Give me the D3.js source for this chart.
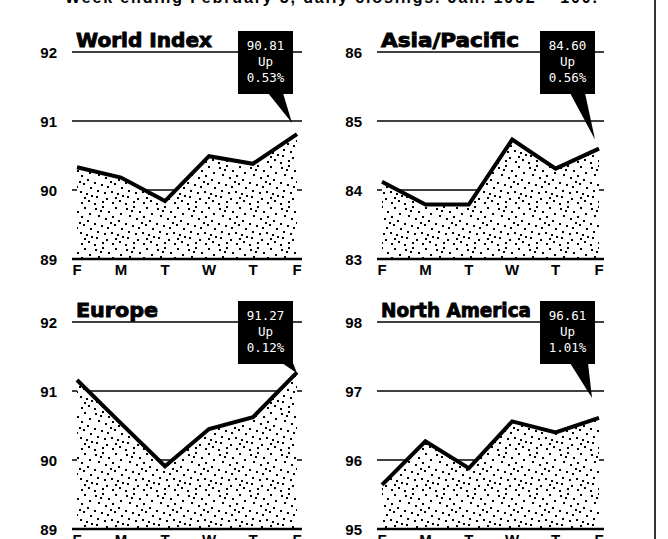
<!DOCTYPE html>
<html>
<head>
<meta charset="utf-8">
<script src="https://cdn.jsdelivr.net/npm/d3@7"></script>
<style>
  body { margin: 0; background: #fff; }
  svg { display: block; }
  .ylab { font-family: "Liberation Sans", Arial, sans-serif; font-weight: bold; font-size: 15px; }
  .day { font-family: "Liberation Sans", Arial, sans-serif; font-weight: bold; font-size: 15px; }
  .ptitle { font-family: "DejaVu Sans", sans-serif; font-weight: bold; font-size: 19.5px; stroke: #000; stroke-width: 0.9px; }
  .boxtxt { font-family: "DejaVu Sans Mono", monospace; font-size: 12.5px; fill: #fff; }
  .head { font-family: "Liberation Sans", Arial, sans-serif; font-weight: bold; font-size: 16px; }
</style>
</head>
<body>
<div id="chart"></div>
<script>
var w = 668;
var h = 539;

var days = ["F", "M", "T", "W", "T", "F"];

var worldValues = [90.33, 90.18, 89.84, 90.49, 90.38, 90.81];
var asiaValues = [84.12, 83.79, 83.79, 84.73, 84.31, 84.60];
var europeValues = [91.16, 90.53, 89.91, 90.45, 90.62, 91.27];
var northAmValues = [95.64, 96.27, 95.88, 96.56, 96.40, 96.61];

var worldTicks = [89, 90, 91, 92];
var asiaTicks = [83, 84, 85, 86];
var europeTicks = [89, 90, 91, 92];
var northAmTicks = [95, 96, 97, 98];

var worldNote = ["90.81", "Up", "0.53%"];
var asiaNote = ["84.60", "Up", "0.56%"];
var europeNote = ["91.27", "Up", "0.12%"];
var northAmNote = ["96.61", "Up", "1.01%"];

var headline = "Week ending February 5, daily closings. Jan. 1992 = 100.";

// scattered dots for the stipple texture (one tile)
var stippleDots = [[2,3],[9,1],[15,6],[22,2],[27,8],[5,10],[12,13],[19,11],[25,15],
                   [1,18],[8,20],[14,22],[21,19],[28,23],[4,26],[11,28],[18,27],[24,29],
                   [7,5],[17,17],[3,32],[13,34],[22,33],[29,31],[9,37],[19,38],[26,36],[1,39]];

function init(){
	var svg = d3.select("#chart")
				.append("svg")
				.attr("width", w)
				.attr("height", h);

	var pat = svg.append("defs").append("pattern")
		.attr("id", "stip")
		.attr("patternUnits", "userSpaceOnUse")
		.attr("width", 31)
		.attr("height", 41);
	pat.append("rect").attr("width", 31).attr("height", 41).attr("fill", "#fff");
	pat.selectAll("rect.d").data(stippleDots).enter().append("rect")
		.attr("class", "d")
		.attr("x", function(d){ return d[0]; })
		.attr("y", function(d){ return d[1]; })
		.attr("width", 2)
		.attr("height", 2)
		.attr("fill", "#000");

	//headline, mostly cut off at the top
	svg.append("text")
		.attr("class", "head")
		.attr("x", 65)
		.attr("y", 3)
		.attr("textLength", 532)
		.text(headline);

	//right border
	svg.append("line")
		.attr("x1", 655).attr("x2", 655)
		.attr("y1", 0).attr("y2", h)
		.attr("stroke", "#000")
		.attr("stroke-width", 1.6);

	drawPanel(svg, {title: "World Index", titleLen: 136, values: worldValues, ticks: worldTicks, note: worldNote,
		x0: 72, x1: 302, y0: 52, y1: 259, tip: [-5, -11], base: [-25, -10]});
	drawPanel(svg, {title: "Asia/Pacific", titleLen: 138, values: asiaValues, ticks: asiaTicks, note: asiaNote,
		x0: 377, x1: 604, y0: 52, y1: 259, tip: [-4, -9], base: [-25, -10]});
	drawPanel(svg, {title: "Europe", titleLen: 82, values: europeValues, ticks: europeTicks, note: europeNote,
		x0: 72, x1: 302, y0: 322, y1: 529, tip: [0, 1], base: [-11, 0]});
	drawPanel(svg, {title: "North America", titleLen: 150, values: northAmValues, ticks: northAmTicks, note: northAmNote,
		x0: 377, x1: 604, y0: 322, y1: 529, tip: [-7, -20], base: [-25, -7]});
}

function drawPanel(svg, p){
	var xScale = d3.scalePoint()
					.domain(d3.range(days.length))
					.range([p.x0 + 5, p.x1 - 5]);

	var yScale = d3.scaleLinear()
					.domain([d3.min(p.ticks), d3.max(p.ticks)])
					.range([p.y1, p.y0]);

	var g = svg.append("g");

	//gridlines go under the stipple
	g.selectAll("line.grid")
		.data(p.ticks.slice(1))
		.enter().append("line")
		.attr("class", "grid")
		.attr("x1", p.x0).attr("x2", p.x1)
		.attr("y1", function(d){ return yScale(d); })
		.attr("y2", function(d){ return yScale(d); })
		.attr("stroke", "#000")
		.attr("stroke-width", 1.7);

	g.selectAll("text.ylab")
		.data(p.ticks)
		.enter().append("text")
		.attr("class", "ylab")
		.attr("x", p.x0 - 15)
		.attr("y", function(d){ return yScale(d) + 6; })
		.attr("text-anchor", "end")
		.text(function(d){ return d; });

	var area = d3.area()
				.x(function(d, i){ return xScale(i); })
				.y0(yScale.range()[0])
				.y1(function(d){ return yScale(d); });

	var line = d3.line()
				.x(function(d, i){ return xScale(i); })
				.y(function(d){ return yScale(d); });

	g.append("path")
		.datum(p.values)
		.attr("d", area)
		.attr("fill", "url(#stip)");

	g.append("path")
		.datum(p.values)
		.attr("d", line)
		.attr("fill", "none")
		.attr("stroke", "#000")
		.attr("stroke-width", 4)
		.attr("stroke-linejoin", "miter");

	//base line
	g.append("line")
		.attr("x1", p.x0).attr("x2", p.x1)
		.attr("y1", yScale.range()[0]).attr("y2", yScale.range()[0])
		.attr("stroke", "#000")
		.attr("stroke-width", 2.4);

	g.selectAll("text.day")
		.data(days)
		.enter().append("text")
		.attr("class", "day")
		.attr("x", function(d, i){ return xScale(i); })
		.attr("y", yScale.range()[0] + 16)
		.attr("text-anchor", "middle")
		.text(function(d){ return d; });

	g.append("text")
		.attr("class", "ptitle")
		.attr("x", p.x0 + 4)
		.attr("y", p.y0 - 5)
		.attr("textLength", p.titleLen)
		.attr("lengthAdjust", "spacingAndGlyphs")
		.text(p.title);

	//callout box with pointer to the last close
	var n = p.values.length - 1;
	var lx = xScale(n), ly = yScale(p.values[n]);
	var bRight = lx - 4, bTop = p.y0 - 21, bw = 55, bh = 63;

	g.append("path")
		.attr("d", "M" + (bRight + p.base[0]) + "," + (bTop + bh - 1) +
				   "L" + (bRight + p.base[1]) + "," + (bTop + bh - 1) +
				   "L" + (lx + p.tip[0]) + "," + (ly + p.tip[1]) + "Z")
		.attr("fill", "#000");

	g.append("rect")
		.attr("x", bRight - bw)
		.attr("y", bTop)
		.attr("width", bw)
		.attr("height", bh)
		.attr("fill", "#000");

	g.selectAll("text.boxtxt")
		.data(p.note)
		.enter().append("text")
		.attr("class", "boxtxt")
		.attr("x", bRight - bw / 2)
		.attr("y", function(d, i){ return bTop + 19 + i * 16; })
		.attr("text-anchor", "middle")
		.text(function(d){ return d; });
}

window.onload = init;
</script>
</body>
</html>
